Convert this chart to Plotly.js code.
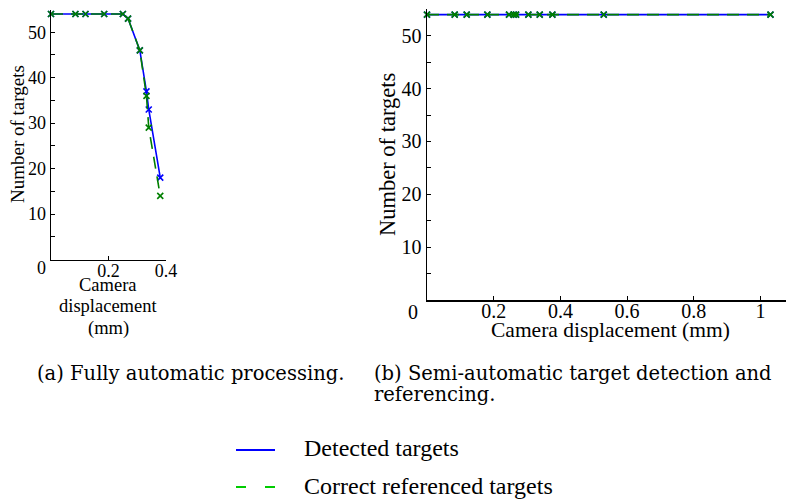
<!DOCTYPE html>
<html><head><meta charset="utf-8">
<script src="https://cdn.plot.ly/plotly-3.0.1.min.js"></script>
<style>html,body{margin:0;padding:0;background:#fff}#c{width:786px;height:503px}</style>
</head><body><div id="c"></div><script>
// (a) Fully automatic processing
const dispA = [0, 0.085, 0.12, 0.185, 0.25, 0.268, 0.309, 0.332, 0.34, 0.38];
const detectedA = [54, 54, 54, 54, 54, 53, 46, 37, 33, 18];
const correctA = [54, 54, 54, 54, 54, 53, 46, 36, 29, 14];
// (b) Semi-automatic target detection and referencing
const dispB = [0, 0.083, 0.119, 0.181, 0.246, 0.26, 0.267, 0.304, 0.338, 0.376, 0.53, 1.03];
const detectedB = [54, 54, 54, 54, 54, 54, 54, 54, 54, 54, 54, 54];
const correctB = [54, 54, 54, 54, 54, 54, 54, 54, 54, 54, 54, 54];
const yTickVals = [5, 10, 15, 20, 25, 30, 35, 40, 45, 50, 55];
const yTickText = ['', '10', '', '20', '', '30', '', '40', '', '50', ''];
const xTickValsA = [0.2, 0.4];
const xTickTextA = ['0.2', '0.4'];
const xTickValsB = [0.2, 0.4, 0.6, 0.8, 1];
const xTickTextB = ['0.2', '0.4', '0.6', '0.8', '1'];
const seriesNames = ['Detected targets', 'Correct referenced targets'];

const W = 786, H = 503;
const px = v => v / W, py = v => 1 - v / H;
const serif = 'Liberation Serif';
const capFont = 'DejaVu Serif';
const BLUE = '#0000ff', GREEN = '#007f00', LGREEN = '#00cc00';

function mk(x, y, xa, ya, color, dash, name) {
  return {
    x: x, y: y, xaxis: xa, yaxis: ya, type: 'scatter', mode: 'lines+markers', name: name,
    showlegend: false, cliponaxis: false,
    line: {color: color, width: 1.6, dash: dash},
    marker: {symbol: 'x-thin-open', size: 6, color: color, line: {color: color, width: 1.6}}
  };
}
const data = [
  mk(dispA, detectedA, 'x', 'y', BLUE, 'solid', seriesNames[0]),
  mk(dispA, correctA, 'x', 'y', GREEN, '12px,8px', seriesNames[1]),
  mk(dispB, detectedB, 'x2', 'y2', BLUE, 'solid', seriesNames[0]),
  mk(dispB, correctB, 'x2', 'y2', GREEN, '12px,8px', seriesNames[1])
];

const axBase = {
  showline: true, linecolor: '#000', linewidth: 1.5, ticks: 'inside', ticklen: 4,
  tickcolor: '#000', tickwidth: 1, showgrid: false, zeroline: false, fixedrange: true
};
const layout = {
  width: W, height: H, margin: {l: 0, r: 0, t: 0, b: 0},
  font: {family: serif, color: '#000'},
  paper_bgcolor: '#fff', plot_bgcolor: '#fff', showlegend: false,
  xaxis: Object.assign({}, axBase, {domain: [px(51), px(166)], range: [0, 0.4], anchor: 'y',
    tickmode: 'array', tickvals: xTickValsA, ticktext: xTickTextA, ticklabelstandoff: -6,
    tickfont: {family: serif, size: 18, color: '#000'}}),
  yaxis: Object.assign({}, axBase, {domain: [py(259.5), py(9.5)], range: [0, 55], anchor: 'x',
    tickmode: 'array', tickvals: yTickVals, ticktext: yTickText,
    tickfont: {family: serif, size: 18, color: '#000'}}),
  xaxis2: Object.assign({}, axBase, {domain: [px(427), 1], range: [0, 1.0765], anchor: 'y2',
    tickmode: 'array', tickvals: xTickValsB, ticktext: xTickTextB, ticklabelstandoff: -8,
    tickfont: {family: serif, size: 20, color: '#000'}}),
  yaxis2: Object.assign({}, axBase, {domain: [py(300), py(9.3)], range: [0, 55], anchor: 'x2',
    tickmode: 'array', tickvals: yTickVals, ticktext: yTickText,
    tickfont: {family: serif, size: 20, color: '#000'}}),
  shapes: [
    {type: 'line', xref: 'paper', yref: 'paper', x0: px(236), x1: px(275), y0: py(450), y1: py(450),
      line: {color: BLUE, width: 2}},
    {type: 'line', xref: 'paper', yref: 'paper', x0: px(236), x1: px(275), y0: py(487), y1: py(487),
      line: {color: LGREEN, width: 2, dash: '10px,19px'}}
  ],
  annotations: []
};
function ann(text, x, y, size, opts, fam) {
  layout.annotations.push(Object.assign({
    text: text, xref: 'paper', yref: 'paper', x: px(x), y: py(y), showarrow: false,
    xanchor: 'center', yanchor: 'middle', font: {family: fam || serif, size: size, color: '#000'}
  }, opts || {}));
}
// origin labels
ann('0', 41, 268, 18);
ann('0', 413, 312, 20);
// axis titles
ann('Number of targets', 17, 134, 19, {textangle: -90});
ann('Number of targets', 387, 155, 22.5, {textangle: -90});
ann('Camera', 108, 285, 18.5);
ann('displacement', 108, 306, 18.5);
ann('(mm)', 108, 328, 18.5);
ann('Camera displacement (mm)', 610, 330, 21.5);
// captions
ann('(a) Fully automatic processing.', 35, 373, 19.5, {xanchor: 'left'}, capFont);
ann('(b) Semi-automatic target detection and', 372, 373, 19.5, {xanchor: 'left'}, capFont);
ann('referencing.', 372, 394, 19.5, {xanchor: 'left'}, capFont);
// legend texts
ann(seriesNames[0], 302, 448, 24, {xanchor: 'left'});
ann(seriesNames[1], 302, 486, 24, {xanchor: 'left'});

Plotly.newPlot('c', data, layout, {staticPlot: true, displayModeBar: false});
</script></body></html>
